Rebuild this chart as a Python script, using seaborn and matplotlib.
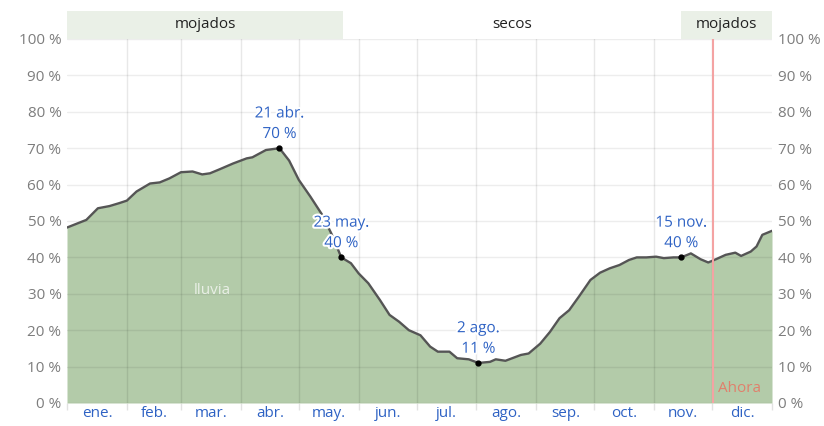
import matplotlib
matplotlib.use("Agg")
import matplotlib.pyplot as plt
import matplotlib.patheffects as pe
from matplotlib.patches import Rectangle
import pandas as pd
import seaborn as sns

# Daily chance of a wet day (%), sampled along the year (day 0 = 1 Jan)
days = [0, 10, 16, 22, 27, 31, 36, 43, 48, 53, 59, 65, 70, 74, 79, 86, 93, 96,
        103, 110, 115, 120, 126, 132, 137, 142, 147, 151, 156, 162, 167, 172,
        177, 183, 188, 192, 198, 202, 208, 213, 219, 222, 227, 232, 235, 239,
        245, 250, 255, 260, 265, 271, 276, 281, 286, 291, 295, 300, 305, 309,
        314, 318, 323, 328, 332, 336, 341, 346, 349, 354, 357, 360, 365]
probs = [48.2, 50.3, 53.5, 54.1, 54.9, 55.6, 58.1, 60.3, 60.6, 61.7, 63.4, 63.6,
         62.8, 63.1, 64.2, 65.8, 67.2, 67.5, 69.5, 70.0, 66.6, 61.3, 56.7, 51.8,
         46.4, 40.0, 38.4, 35.6, 32.9, 28.3, 24.2, 22.3, 20.0, 18.6, 15.5, 14.1,
         14.1, 12.3, 12.0, 11.0, 11.3, 12.0, 11.6, 12.6, 13.2, 13.6, 16.3, 19.5,
         23.3, 25.5, 29.2, 33.8, 35.8, 37.0, 37.9, 39.3, 40.0, 40.0, 40.2, 39.8,
         40.0, 40.0, 41.1, 39.5, 38.6, 39.5, 40.7, 41.3, 40.4, 41.6, 43.0, 46.2,
         47.3]

month_labels = ["ene.", "feb.", "mar.", "abr.", "may.", "jun.",
                "jul.", "ago.", "sep.", "oct.", "nov.", "dic."]
month_starts = [0, 31, 59, 90, 120, 151, 181, 212, 243, 273, 304, 334, 365]
y_ticks = [0, 10, 20, 30, 40, 50, 60, 70, 80, 90, 100]
y_labels = [f"{v} %" for v in y_ticks]

# Seasons: (label, first day, last day, wet?)
seasons = [("mojados", 0, 143, True), ("secos", 143, 318, False),
           ("mojados", 318, 365, True)]
# Highlighted days: (day, value, date label)
highlights = [(110, 70, "21 abr."), (142, 40, "23 may."),
              (213, 11, "2 ago."), (318, 40, "15 nov.")]
now_day = 334.5

FILL = "#b3cba9"
LINE = "#555555"
BLUE = "#2e62c4"
TICK_GRAY = "#7d7d7d"
BAND = "#eaf0e7"
FS = 11

sns.set_theme(style="white")
plt.rcParams["font.family"] = ["Open Sans", "DejaVu Sans"]

fig = plt.figure(figsize=(8.24, 4.26), dpi=100)
ax = fig.add_axes([67 / 824, 1 - 403 / 426, 705 / 824, 364 / 426])

df = pd.DataFrame({"dia": days, "prob": probs})
ax.fill_between(df["dia"], df["prob"], 0, color=FILL, lw=0, zorder=1)
sns.lineplot(data=df, x="dia", y="prob", ax=ax, color=LINE, lw=1.7, zorder=3)

# grid drawn over the filled area
for d in month_starts[1:-1]:
    ax.axvline(d, color="black", alpha=0.09, lw=1, zorder=2)
for y in y_ticks:
    ax.axhline(y, color="black", alpha=0.07, lw=1, zorder=2)

ax.set_xlim(0, 365)
ax.set_ylim(0, 100)
for s in ax.spines.values():
    s.set_visible(False)

mids = [(a + b) / 2 for a, b in zip(month_starts[:-1], month_starts[1:])]
ax.set_xticks(mids)
ax.set_xticklabels(month_labels, color=BLUE, fontsize=FS)
ax.set_xticks(month_starts, minor=True)
ax.tick_params(axis="x", which="major", length=0, pad=2)
ax.tick_params(axis="x", which="minor", length=5, width=1, color="#e2e2e2",
               bottom=True)
ax.set_yticks(y_ticks)
ax.set_yticklabels(y_labels, color=TICK_GRAY, fontsize=FS)
ax.tick_params(axis="y", length=0, pad=4, labelright=True, labelleft=True)
ax.set_xlabel("")
ax.set_ylabel("")

# season band above the plot
trans = ax.get_xaxis_transform()
band_h = 28.5 / 364
for label, start, end, wet in seasons:
    if wet:
        ax.add_patch(Rectangle((start, 1.0), end - start, band_h,
                               transform=trans, clip_on=False,
                               facecolor=BAND, edgecolor="none"))
    ax.text((start + end) / 2, 1 + band_h / 2, label, transform=trans,
            ha="center", va="center", fontsize=FS, color="#222222")

# current day marker
ax.axvline(now_day, color="#f4a3a3", lw=1.5, zorder=4)
ax.text(now_day + 2.5, 4.0, "Ahora", color="#e0806c", fontsize=FS,
        ha="left", va="center", zorder=5)

ax.text(75, 31, "lluvia", color="#e9efe6", fontsize=FS, ha="center",
        va="center", zorder=4)

halo = [pe.withStroke(linewidth=3, foreground="white")]
for d, v, lab in highlights:
    ax.plot([d], [v], "o", ms=3.5, color="black", zorder=6)
    ax.annotate(f"{lab}\n{v} %", (d, v), xytext=(0, 4.5),
                textcoords="offset points", ha="center", va="bottom",
                color=BLUE, fontsize=FS, linespacing=1.5,
                path_effects=halo, zorder=7)

fig.savefig("out.png", dpi=100)
